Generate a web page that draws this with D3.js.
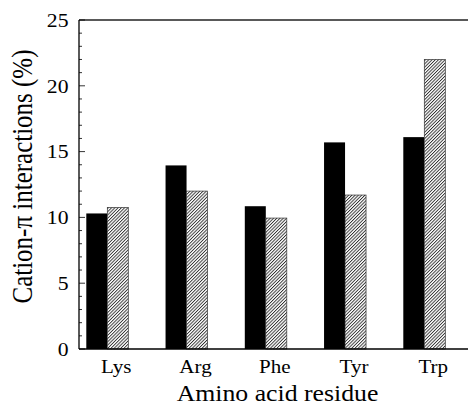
<!DOCTYPE html>
<html>
<head>
<meta charset="utf-8">
<script src="https://d3js.org/d3.v7.min.js"></script>
<style>
  html, body { margin: 0; padding: 0; background: #fff; }
  svg { display: block; }
</style>
</head>
<body>
<script>
const categories = ["Lys", "Arg", "Phe", "Tyr", "Trp"];
const seriesSolid = [10.3, 13.95, 10.85, 15.7, 16.1];
const seriesHatched = [10.75, 12.0, 9.95, 11.7, 22.0];
const yMajorTicks = [0, 5, 10, 15, 20, 25];
const yMinorTicks = d3.range(0, 26, 1);
const yTitle = "Cation-\u03C0 interactions (%)";
const xTitle = "Amino acid residue";

const W = 468, H = 406;
const plotL = 79, plotR = 468, plotT = 20, plotB = 349;
const barW = 21;
const stretch = 1.17;
const font = "'Liberation Serif', 'Times New Roman', serif";

const svg = d3.select("body").append("svg").attr("width", W).attr("height", H);

const defs = svg.append("defs");
const pat = defs.append("pattern")
  .attr("id", "hatch").attr("patternUnits", "userSpaceOnUse")
  .attr("width", 2.3).attr("height", 2.3)
  .attr("patternTransform", "rotate(45)");
pat.append("rect").attr("width", 2.3).attr("height", 2.3).attr("fill", "#fff");
pat.append("line").attr("x1", 0.5).attr("y1", 0).attr("x2", 0.5).attr("y2", 2.3)
  .attr("stroke", "#111").attr("stroke-width", 0.8);

const y = d3.scaleLinear().domain([0, 25]).range([plotB, plotT]);
const x = d3.scalePoint().domain(categories).range([107.3, 424.3]);

// bars
const g = svg.append("g");
g.selectAll("rect.solid").data(categories).enter().append("rect")
  .attr("class", "solid")
  .attr("x", d => x(d) - barW)
  .attr("width", barW)
  .attr("y", (d, i) => y(seriesSolid[i]))
  .attr("height", (d, i) => y(0) - y(seriesSolid[i]))
  .attr("fill", "#000");
g.selectAll("rect.hatch").data(categories).enter().append("rect")
  .attr("class", "hatch")
  .attr("x", d => x(d))
  .attr("width", barW)
  .attr("y", (d, i) => y(seriesHatched[i]))
  .attr("height", (d, i) => y(0) - y(seriesHatched[i]))
  .attr("fill", "url(#hatch)")
  .attr("stroke", "#333").attr("stroke-width", 0.7);

// frame
const frame = svg.append("g").attr("stroke", "#000").attr("fill", "none");
frame.append("line").attr("x1", plotL).attr("x2", plotR).attr("y1", plotT).attr("y2", plotT).attr("stroke-width", 1.3).attr("stroke", "#222");
frame.append("line").attr("x1", plotL).attr("x2", plotR).attr("y1", plotB).attr("y2", plotB).attr("stroke-width", 1.3);
frame.append("line").attr("x1", plotL).attr("x2", plotL).attr("y1", plotT).attr("y2", plotB).attr("stroke-width", 1.3);

// y ticks (inward)
svg.append("g").selectAll("line").data(yMinorTicks).enter().append("line")
  .attr("x1", plotL).attr("x2", d => plotL + (d % 5 === 0 ? 6 : 3))
  .attr("y1", d => y(d)).attr("y2", d => y(d))
  .attr("stroke", "#000").attr("stroke-width", 0.8);

svg.append("g").selectAll("text").data(yMajorTicks).enter().append("text")
  .attr("transform", d => `translate(68.5,${y(d)}) scale(1.1,1)`)
  .attr("dy", "0.34em")
  .attr("text-anchor", "end")
  .attr("font-family", font).attr("font-size", 19.7)
  .text(d => d);

// x labels
svg.append("g").selectAll("text").data(categories).enter().append("text")
  .attr("transform", d => `translate(${x(d) + 9},373.3) scale(${stretch},1)`)
  .attr("text-anchor", "middle")
  .attr("font-family", font).attr("font-size", 18)
  .text(d => d);

// titles
svg.append("text")
  .attr("transform", `translate(277.5,401.3) scale(1.12,1)`)
  .attr("text-anchor", "middle")
  .attr("font-family", font).attr("font-size", 23)
  .text(xTitle);

svg.append("text")
  .attr("transform", `translate(32.3,176.5) scale(${stretch},1) rotate(-90)`)
  .attr("text-anchor", "middle")
  .attr("font-family", font).attr("font-size", 25)
  .text(yTitle);
</script>
</body>
</html>
